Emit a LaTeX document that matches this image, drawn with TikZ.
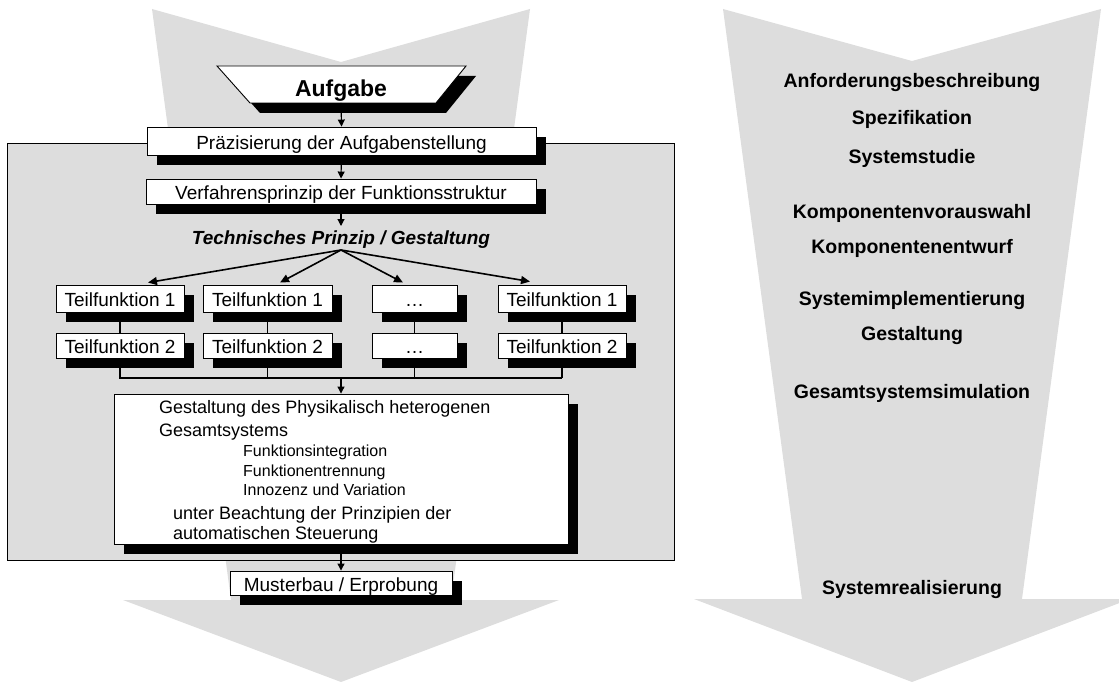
\documentclass[tikz,border=0pt]{standalone}
\usepackage{fontspec}
\setmainfont{Liberation Sans}
\usetikzlibrary{arrows.meta,shadows,calc}
\definecolor{chev}{HTML}{DDDDDD}

\begin{document}
\begin{tikzpicture}[x=1pt,y=-1pt,
  shade box/.style={draw=black, line width=0.9pt, fill=white, inner sep=0pt,
    font=\fontsize{19}{22}\selectfont, text height=16.5pt, text depth=0pt,
    drop shadow={shadow xshift=10pt, shadow yshift=-10pt, fill=black, opacity=1}},
  conn/.style={line width=1.1pt, -{Triangle[length=7pt,width=7pt]}},
  fan/.style={line width=1.6pt, -{Triangle[length=9pt,width=8pt]}},
  phase/.style={inner sep=0pt, font=\bfseries\fontsize{19.5}{22}\selectfont,
    text height=14pt, text depth=0pt},
  bigline/.style={anchor=west, inner sep=0pt, font=\fontsize{18}{21}\selectfont,
    text height=12.9pt, text depth=0pt},
  smallline/.style={anchor=west, inner sep=0pt, font=\fontsize{16}{19}\selectfont,
    text height=11.5pt, text depth=0pt}]

\clip (0,0) rectangle (1119,682);

% the two large process chevrons
\fill[chev] (152,9) -- (341,62) -- (530,9) -- (451,600) -- (559,600)
  -- (341,682) -- (123,600) -- (231,600) -- cycle;
\fill[chev] (723,9) -- (912,61) -- (1101,9) -- (1022,599) -- (1130,599)
  -- (912,682) -- (694,599) -- (802,599) -- cycle;

% frame around the design steps
\draw[fill=chev, line width=1pt] (7,144) rectangle (674,560);

% task (trapezoid with shadow)
\fill[black] (227,76) -- (476,76) -- (446,113) -- (260,113) -- cycle;
\draw[fill=white, line width=0.9pt] (217,66) -- (466,66) -- (436,103) -- (250,103) -- cycle;
\node[inner sep=0pt, font=\bfseries\fontsize{23}{26}\selectfont,
  text height=16.5pt, text depth=0pt] (aufg) at (341,88.5) {Aufgabe};

% sequence of steps
\node[shade box, minimum width=389pt, minimum height=28pt] (prae) at (341.5,141)
  {Präzisierung der Aufgabenstellung};
\node[shade box, minimum width=390pt, minimum height=25pt] (verf) at (341,191.5)
  {Verfahrensprinzip der Funktionsstruktur};
\node[inner sep=0pt, font=\bfseries\itshape\fontsize{19}{22}\selectfont,
  text height=13.6pt, text depth=0pt] (tech) at (341,238)
  {Technisches Prinzip / Gestaltung};
\coordinate (fanroot) at (341,250);

% sub-function columns
\coordinate (bar) at (341,378);
\draw[line width=1.1pt] (120,312) -- (120,378) -- (562,378);
\draw[line width=1.1pt] (267.5,312) -- (267.5,378);
\draw[line width=1.1pt] (414.5,312) -- (414.5,378);
\draw[line width=1.1pt] (562,312) -- (562,378);

\node[shade box, minimum width=128pt, minimum height=27pt] (t11) at (120,298.5) {Teilfunktion 1};
\node[shade box, minimum width=129pt, minimum height=27pt] (t12) at (267.5,298.5) {Teilfunktion 1};
\node[shade box, minimum width=85pt, minimum height=27pt] (t13) at (414.5,298.5) {\dots};
\node[shade box, minimum width=128pt, minimum height=27pt] (t14) at (562,298.5) {Teilfunktion 1};
\node[shade box, minimum width=128pt, minimum height=25pt] (t21) at (120,345.5) {Teilfunktion 2};
\node[shade box, minimum width=129pt, minimum height=25pt] (t22) at (267.5,345.5) {Teilfunktion 2};
\node[shade box, minimum width=85pt, minimum height=25pt] (t23) at (414.5,345.5) {\dots};
\node[shade box, minimum width=128pt, minimum height=25pt] (t24) at (562,345.5) {Teilfunktion 2};

% overall system design
\node[shade box, minimum width=454pt, minimum height=150pt] (big) at (341,469) {};
\node[bigline] (g1) at (159,407) {Gestaltung des Physikalisch heterogenen};
\node[bigline] (g2) at (159,430) {Gesamtsystems};
\node[smallline] (g3) at (243,451) {Funktionsintegration};
\node[smallline] (g4) at (243,471) {Funktionentrennung};
\node[smallline] (g5) at (243,490) {Innozenz und Variation};
\node[bigline] (g6) at (173,513) {unter Beachtung der Prinzipien der};
\node[bigline] (g7) at (173,533) {automatischen Steuerung};

\node[shade box, minimum width=222pt, minimum height=24pt] (muster) at (341,583)
  {Musterbau / Erprobung};

% connectors
\draw[conn] ([yshift=-6pt]aufg.south) -- (prae.north);
\draw[conn] (prae.south) -- (verf.north);
\draw[conn] (verf.south) -- (341,226);
\draw[fan] (fanroot) -- ([xshift=28pt,yshift=2pt]t11.north);
\draw[fan] (fanroot) -- ([xshift=12.5pt,yshift=2pt]t12.north);
\draw[fan] (fanroot) -- ([xshift=-11.5pt,yshift=2pt]t13.north);
\draw[fan] (fanroot) -- ([xshift=-32pt,yshift=3pt]t14.north);
\draw[conn] (bar) -- (big.north);
\draw[conn] (big.south) -- (muster.north);

% phases of the system development
\node[phase] (p1) at (912,81) {Anforderungsbeschreibung};
\node[phase] (p2) at (912,118) {Spezifikation};
\node[phase] (p3) at (912,157) {Systemstudie};
\node[phase] (p4) at (912,211) {Komponentenvorauswahl};
\node[phase] (p5) at (912,246) {Komponentenentwurf};
\node[phase] (p6) at (912,298) {Systemimplementierung};
\node[phase] (p7) at (912,333) {Gestaltung};
\node[phase] (p8) at (912,391) {Gesamtsystemsimulation};
\node[phase] (p9) at (912,587) {Systemrealisierung};
\end{tikzpicture}
\end{document}
